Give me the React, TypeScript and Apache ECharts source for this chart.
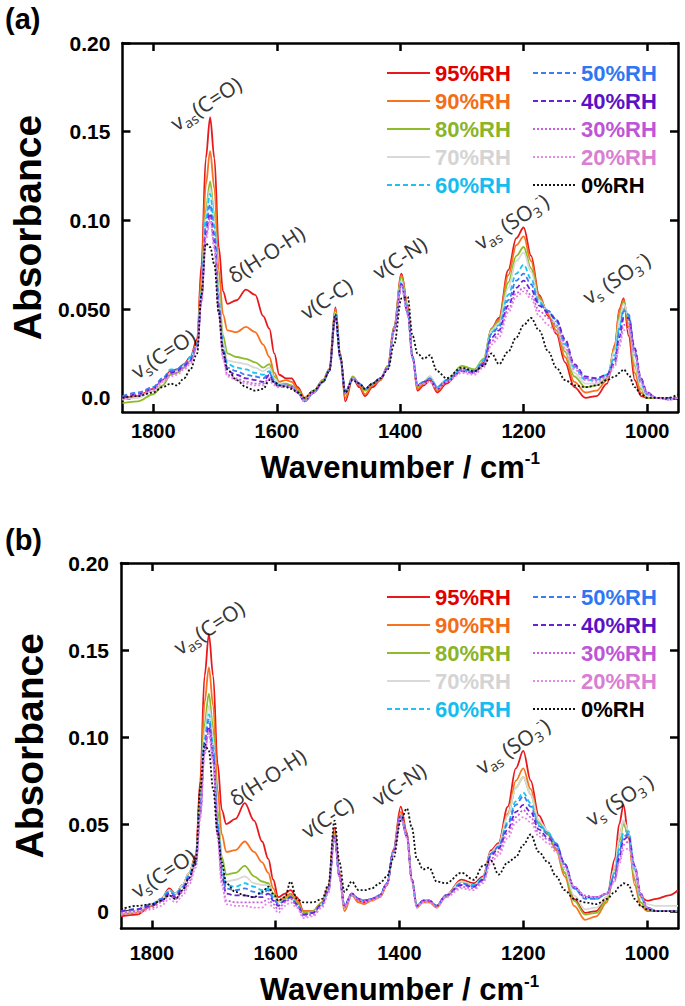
import React, { useEffect, useRef } from "react";
import * as echarts from "echarts";

// ---------- data ----------
const wavenumbers = [
  1850, 1825, 1800, 1785, 1772, 1762, 1750, 1740,
  1729, 1722, 1715, 1708, 1701, 1694, 1687,
  1680, 1665, 1650, 1635, 1622, 1612, 1604, 1596,
  1585, 1576, 1566, 1555, 1540, 1525, 1515,
  1505, 1497, 1489,
  1477, 1466, 1457, 1445, 1432, 1420, 1410,
  1398, 1388, 1380, 1372, 1362, 1352, 1340, 1325,
  1300, 1280, 1265, 1252, 1240, 1225, 1212, 1200, 1188, 1175, 1160, 1147, 1133, 1118, 1100, 1082, 1065,
  1052, 1045, 1038, 1030, 1020, 1010, 1000, 985, 965, 950,
];

const rhNames = ["95%RH", "90%RH", "80%RH", "70%RH", "60%RH", "50%RH", "40%RH", "30%RH", "20%RH", "0%RH"];

// Panel (a)
const a95 = [
  -0.001, 0.001, 0.005, 0.010, 0.015, 0.016, 0.019, 0.023,
  0.033, 0.075, 0.135, 0.158, 0.135, 0.085, 0.060,
  0.053, 0.055, 0.061, 0.058, 0.046, 0.039, 0.025, 0.013,
  0.011, 0.011, 0.006, 0.000, 0.004, 0.010, 0.016,
  0.051, 0.025, -0.002,
  0.011, 0.006, 0.001, 0.006, 0.010, 0.018, 0.040,
  0.070, 0.052, 0.023, 0.004, 0.007, 0.010, 0.003, 0.008,
  0.017, 0.015, 0.020, 0.039, 0.045, 0.072, 0.090, 0.096, 0.080, 0.058, 0.046, 0.036, 0.020, 0.006, 0.000, 0.001, 0.008,
  0.030, 0.050, 0.056, 0.035, 0.010, 0.001, 0.000, 0.000, 0.000, 0.000,
];
const a90 = [
  0.000, 0.001, 0.004, 0.009, 0.014, 0.015, 0.018, 0.022,
  0.031, 0.068, 0.120, 0.139, 0.118, 0.072, 0.047,
  0.038, 0.037, 0.040, 0.037, 0.030, 0.023, 0.014, 0.009,
  0.010, 0.009, 0.005, 0.000, 0.004, 0.010, 0.016,
  0.050, 0.024, 0.000,
  0.011, 0.007, 0.002, 0.007, 0.010, 0.018, 0.040,
  0.069, 0.051, 0.023, 0.005, 0.008, 0.011, 0.004, 0.009,
  0.017, 0.015, 0.021, 0.039, 0.044, 0.069, 0.086, 0.091, 0.077, 0.057, 0.047, 0.038, 0.023, 0.009, 0.003, 0.004, 0.010,
  0.030, 0.049, 0.055, 0.040, 0.014, 0.003, 0.000, 0.000, 0.000, 0.000,
];
const a80 = [
  -0.003, -0.002, 0.002, 0.007, 0.013, 0.014, 0.017, 0.021,
  0.030, 0.062, 0.106, 0.122, 0.103, 0.060, 0.035,
  0.025, 0.023, 0.022, 0.020, 0.017, 0.019, 0.012, 0.008,
  0.008, 0.007, 0.004, -0.001, 0.004, 0.010, 0.016,
  0.049, 0.024, 0.002,
  0.012, 0.008, 0.004, 0.008, 0.011, 0.018, 0.040,
  0.068, 0.050, 0.023, 0.006, 0.009, 0.012, 0.006, 0.010,
  0.018, 0.016, 0.022, 0.039, 0.043, 0.065, 0.080, 0.085, 0.073, 0.056, 0.048, 0.040, 0.026, 0.012, 0.006, 0.007, 0.011,
  0.028, 0.046, 0.054, 0.044, 0.018, 0.005, 0.000, 0.000, 0.000, 0.000,
];
const a70 = [
  -0.001, 0.000, 0.004, 0.009, 0.014, 0.015, 0.018, 0.022,
  0.030, 0.060, 0.103, 0.118, 0.100, 0.057, 0.031,
  0.021, 0.020, 0.019, 0.017, 0.015, 0.017, 0.011, 0.008,
  0.007, 0.006, 0.003, -0.002, 0.003, 0.009, 0.015,
  0.048, 0.023, 0.003,
  0.011, 0.008, 0.005, 0.008, 0.011, 0.017, 0.038,
  0.066, 0.049, 0.023, 0.007, 0.009, 0.012, 0.006, 0.010,
  0.017, 0.015, 0.021, 0.038, 0.042, 0.062, 0.077, 0.082, 0.071, 0.055, 0.048, 0.041, 0.028, 0.014, 0.008, 0.008, 0.012,
  0.027, 0.044, 0.053, 0.046, 0.020, 0.006, 0.001, 0.000, 0.000, 0.000,
];
const a60 = [
  0.000, 0.002, 0.006, 0.011, 0.016, 0.016, 0.019, 0.023,
  0.030, 0.060, 0.101, 0.115, 0.097, 0.055, 0.029,
  0.019, 0.017, 0.016, 0.014, 0.013, 0.015, 0.010, 0.007,
  0.007, 0.006, 0.003, -0.002, 0.003, 0.009, 0.015,
  0.047, 0.022, 0.003,
  0.011, 0.008, 0.005, 0.008, 0.011, 0.017, 0.038,
  0.065, 0.049, 0.023, 0.007, 0.009, 0.011, 0.006, 0.010,
  0.016, 0.015, 0.021, 0.037, 0.041, 0.058, 0.070, 0.075, 0.067, 0.054, 0.049, 0.043, 0.030, 0.017, 0.010, 0.010, 0.013,
  0.024, 0.040, 0.050, 0.046, 0.024, 0.008, 0.002, 0.000, 0.000, 0.000,
];
const a50 = [
  0.001, 0.003, 0.006, 0.011, 0.015, 0.016, 0.019, 0.022,
  0.030, 0.058, 0.097, 0.109, 0.092, 0.052, 0.027,
  0.017, 0.015, 0.013, 0.012, 0.011, 0.014, 0.009, 0.007,
  0.007, 0.006, 0.003, -0.002, 0.003, 0.009, 0.015,
  0.046, 0.022, 0.003,
  0.011, 0.008, 0.005, 0.008, 0.011, 0.017, 0.038,
  0.064, 0.048, 0.023, 0.007, 0.009, 0.011, 0.006, 0.010,
  0.016, 0.015, 0.020, 0.036, 0.040, 0.055, 0.066, 0.070, 0.064, 0.053, 0.049, 0.044, 0.032, 0.018, 0.011, 0.011, 0.013,
  0.022, 0.038, 0.049, 0.047, 0.026, 0.009, 0.002, 0.000, 0.000, 0.000,
];
const a40 = [
  0.000, 0.002, 0.005, 0.010, 0.014, 0.015, 0.018, 0.021,
  0.029, 0.056, 0.093, 0.104, 0.088, 0.050, 0.025,
  0.015, 0.013, 0.011, 0.010, 0.009, 0.013, 0.008, 0.006,
  0.007, 0.006, 0.003, -0.002, 0.003, 0.009, 0.015,
  0.046, 0.022, 0.003,
  0.011, 0.008, 0.005, 0.008, 0.011, 0.017, 0.038,
  0.064, 0.048, 0.023, 0.007, 0.009, 0.010, 0.005, 0.009,
  0.015, 0.014, 0.019, 0.034, 0.038, 0.052, 0.062, 0.066, 0.061, 0.052, 0.048, 0.044, 0.033, 0.019, 0.012, 0.011, 0.013,
  0.020, 0.034, 0.045, 0.045, 0.028, 0.011, 0.003, 0.000, -0.001, 0.000,
];
const a30 = [
  0.000, 0.002, 0.005, 0.010, 0.013, 0.014, 0.017, 0.020,
  0.029, 0.055, 0.091, 0.102, 0.086, 0.048, 0.023,
  0.013, 0.011, 0.009, 0.008, 0.008, 0.011, 0.008, 0.006,
  0.007, 0.006, 0.003, -0.002, 0.003, 0.009, 0.015,
  0.046, 0.022, 0.003,
  0.011, 0.008, 0.005, 0.008, 0.011, 0.017, 0.038,
  0.063, 0.048, 0.022, 0.007, 0.008, 0.009, 0.005, 0.009,
  0.015, 0.014, 0.018, 0.032, 0.036, 0.050, 0.059, 0.062, 0.058, 0.049, 0.045, 0.041, 0.031, 0.018, 0.011, 0.010, 0.012,
  0.019, 0.031, 0.041, 0.042, 0.026, 0.010, 0.003, 0.000, -0.001, 0.000,
];
const a20 = [
  -0.001, 0.001, 0.004, 0.009, 0.012, 0.013, 0.016, 0.019,
  0.028, 0.054, 0.089, 0.100, 0.084, 0.047, 0.022,
  0.012, 0.010, 0.008, 0.007, 0.007, 0.010, 0.007, 0.006,
  0.007, 0.006, 0.003, -0.002, 0.003, 0.009, 0.015,
  0.045, 0.022, 0.003,
  0.011, 0.008, 0.005, 0.008, 0.011, 0.017, 0.038,
  0.063, 0.047, 0.022, 0.007, 0.008, 0.009, 0.005, 0.009,
  0.014, 0.013, 0.017, 0.030, 0.034, 0.048, 0.057, 0.060, 0.056, 0.046, 0.041, 0.037, 0.028, 0.016, 0.010, 0.009, 0.011,
  0.018, 0.029, 0.038, 0.039, 0.024, 0.009, 0.002, 0.000, -0.001, 0.000,
];
const a0 = [
  0.000, 0.001, 0.003, 0.006, 0.008, 0.007, 0.011, 0.016,
  0.025, 0.058, 0.087, 0.085, 0.075, 0.048, 0.026,
  0.016, 0.010, 0.006, 0.004, 0.005, 0.010, 0.009, 0.007,
  0.006, 0.005, 0.003, 0.000, 0.004, 0.009, 0.015,
  0.047, 0.023, 0.003,
  0.010, 0.008, 0.005, 0.008, 0.011, 0.016, 0.030,
  0.056, 0.057, 0.035, 0.025, 0.022, 0.024, 0.015, 0.011,
  0.017, 0.015, 0.018, 0.025, 0.019, 0.026, 0.034, 0.041, 0.045, 0.038, 0.026, 0.017, 0.010, 0.007, 0.006, 0.007, 0.010,
  0.012, 0.014, 0.016, 0.013, 0.006, 0.002, 0.000, 0.000, 0.000, 0.002,
];

// Panel (b)
const b95 = [
  -0.003, -0.002, 0.003, 0.007, 0.013, 0.010, 0.015, 0.022,
  0.032, 0.075, 0.135, 0.159, 0.135, 0.085, 0.058,
  0.050, 0.053, 0.062, 0.052, 0.040, 0.030, 0.018, 0.008,
  0.010, 0.012, 0.008, 0.000, 0.000, 0.005, 0.014,
  0.048, 0.022, 0.002,
  0.010, 0.006, 0.005, 0.007, 0.008, 0.015, 0.035,
  0.060, 0.045, 0.018, 0.003, 0.006, 0.006, 0.003, 0.009,
  0.018, 0.016, 0.020, 0.035, 0.039, 0.060, 0.082, 0.092, 0.075, 0.055, 0.045, 0.036, 0.022, 0.007, -0.001, 0.000, 0.008,
  0.030, 0.050, 0.061, 0.042, 0.018, 0.008, 0.006, 0.007, 0.009, 0.012,
];
const b90 = [
  -0.002, -0.001, 0.003, 0.007, 0.012, 0.010, 0.015, 0.022,
  0.031, 0.068, 0.120, 0.140, 0.118, 0.070, 0.044,
  0.034, 0.035, 0.040, 0.034, 0.028, 0.022, 0.013, 0.006,
  0.008, 0.010, 0.006, 0.000, 0.000, 0.005, 0.013,
  0.045, 0.020, 0.000,
  0.009, 0.005, 0.004, 0.006, 0.008, 0.015, 0.035,
  0.057, 0.044, 0.018, 0.002, 0.005, 0.005, 0.002, 0.008,
  0.017, 0.015, 0.019, 0.034, 0.038, 0.056, 0.075, 0.082, 0.070, 0.052, 0.044, 0.035, 0.020, 0.003, -0.005, -0.003, 0.005,
  0.025, 0.042, 0.052, 0.042, 0.015, 0.003, 0.000, 0.000, 0.000, 0.000,
];
const b80 = [
  -0.001, 0.000, 0.004, 0.007, 0.012, 0.010, 0.015, 0.022,
  0.030, 0.063, 0.108, 0.125, 0.105, 0.058, 0.031,
  0.021, 0.022, 0.026, 0.020, 0.017, 0.016, 0.010, 0.005,
  0.007, 0.009, 0.005, -0.001, 0.000, 0.005, 0.013,
  0.044, 0.020, 0.002,
  0.010, 0.007, 0.006, 0.007, 0.009, 0.016, 0.034,
  0.055, 0.043, 0.018, 0.003, 0.006, 0.006, 0.003, 0.009,
  0.017, 0.015, 0.019, 0.034, 0.038, 0.055, 0.071, 0.077, 0.067, 0.051, 0.044, 0.036, 0.022, 0.006, -0.002, -0.001, 0.006,
  0.024, 0.040, 0.050, 0.044, 0.018, 0.005, 0.001, 0.000, 0.000, 0.000,
];
const b70 = [
  -0.001, 0.000, 0.004, 0.007, 0.012, 0.010, 0.015, 0.022,
  0.030, 0.061, 0.103, 0.118, 0.099, 0.054, 0.027,
  0.017, 0.018, 0.020, 0.016, 0.015, 0.015, 0.009, 0.005,
  0.006, 0.008, 0.004, -0.002, -0.001, 0.004, 0.012,
  0.043, 0.020, 0.003,
  0.010, 0.007, 0.006, 0.007, 0.009, 0.016, 0.034,
  0.055, 0.043, 0.018, 0.003, 0.006, 0.006, 0.003, 0.009,
  0.017, 0.015, 0.019, 0.034, 0.038, 0.055, 0.071, 0.077, 0.067, 0.052, 0.046, 0.038, 0.024, 0.009, 0.001, 0.002, 0.008,
  0.025, 0.042, 0.052, 0.046, 0.021, 0.007, 0.004, 0.003, 0.003, 0.003,
];
const b60 = [
  0.000, 0.001, 0.004, 0.007, 0.012, 0.010, 0.014, 0.021,
  0.030, 0.060, 0.099, 0.113, 0.095, 0.052, 0.025,
  0.015, 0.014, 0.016, 0.014, 0.012, 0.013, 0.008, 0.004,
  0.006, 0.008, 0.004, -0.002, -0.001, 0.004, 0.012,
  0.043, 0.020, 0.003,
  0.010, 0.007, 0.006, 0.007, 0.009, 0.016, 0.034,
  0.055, 0.043, 0.018, 0.003, 0.006, 0.006, 0.003, 0.009,
  0.016, 0.015, 0.019, 0.033, 0.037, 0.051, 0.063, 0.068, 0.062, 0.050, 0.045, 0.039, 0.027, 0.013, 0.008, 0.007, 0.010,
  0.022, 0.036, 0.045, 0.046, 0.024, 0.008, 0.002, 0.000, 0.000, 0.000,
];
const b50 = [
  0.000, 0.001, 0.004, 0.007, 0.011, 0.009, 0.014, 0.020,
  0.029, 0.058, 0.097, 0.110, 0.092, 0.050, 0.023,
  0.013, 0.012, 0.013, 0.011, 0.010, 0.012, 0.007, 0.004,
  0.006, 0.008, 0.004, -0.002, -0.001, 0.004, 0.012,
  0.043, 0.020, 0.003,
  0.010, 0.007, 0.006, 0.007, 0.009, 0.016, 0.034,
  0.055, 0.043, 0.018, 0.003, 0.006, 0.006, 0.003, 0.009,
  0.016, 0.014, 0.018, 0.033, 0.037, 0.050, 0.061, 0.066, 0.060, 0.049, 0.044, 0.039, 0.027, 0.013, 0.007, 0.007, 0.010,
  0.021, 0.034, 0.043, 0.044, 0.025, 0.009, 0.002, 0.000, 0.000, 0.000,
];
const b40 = [
  0.000, 0.001, 0.003, 0.006, 0.010, 0.008, 0.013, 0.019,
  0.028, 0.056, 0.093, 0.106, 0.088, 0.047, 0.020,
  0.010, 0.009, 0.009, 0.008, 0.008, 0.010, 0.006, 0.003,
  0.006, 0.008, 0.004, -0.002, -0.001, 0.004, 0.012,
  0.043, 0.020, 0.003,
  0.010, 0.007, 0.006, 0.007, 0.009, 0.016, 0.034,
  0.055, 0.043, 0.018, 0.003, 0.006, 0.006, 0.003, 0.009,
  0.015, 0.014, 0.018, 0.032, 0.036, 0.047, 0.057, 0.061, 0.057, 0.047, 0.042, 0.038, 0.027, 0.014, 0.008, 0.008, 0.010,
  0.019, 0.031, 0.041, 0.043, 0.026, 0.010, 0.002, 0.000, 0.000, 0.000,
];
const b30 = [
  -0.001, 0.000, 0.002, 0.005, 0.009, 0.007, 0.011, 0.017,
  0.027, 0.055, 0.091, 0.104, 0.086, 0.044, 0.017,
  0.006, 0.005, 0.005, 0.005, 0.005, 0.007, 0.004, 0.001,
  0.005, 0.007, 0.003, -0.003, -0.002, 0.003, 0.011,
  0.043, 0.020, 0.003,
  0.010, 0.007, 0.006, 0.007, 0.009, 0.016, 0.034,
  0.055, 0.043, 0.018, 0.003, 0.006, 0.006, 0.003, 0.009,
  0.014, 0.013, 0.017, 0.030, 0.034, 0.045, 0.054, 0.058, 0.054, 0.045, 0.041, 0.036, 0.026, 0.014, 0.009, 0.008, 0.010,
  0.018, 0.029, 0.038, 0.040, 0.026, 0.010, 0.002, 0.000, 0.000, 0.000,
];
const b20 = [
  -0.002, -0.001, 0.001, 0.003, 0.007, 0.005, 0.009, 0.015,
  0.025, 0.053, 0.090, 0.103, 0.085, 0.042, 0.015,
  0.004, 0.003, 0.003, 0.002, 0.002, 0.005, 0.002, -0.001,
  0.003, 0.005, 0.002, -0.004, -0.003, 0.002, 0.010,
  0.042, 0.019, 0.002,
  0.009, 0.006, 0.005, 0.006, 0.008, 0.015, 0.033,
  0.054, 0.042, 0.017, 0.002, 0.005, 0.005, 0.002, 0.008,
  0.013, 0.012, 0.016, 0.028, 0.032, 0.042, 0.051, 0.054, 0.051, 0.043, 0.039, 0.034, 0.025, 0.014, 0.008, 0.008, 0.010,
  0.017, 0.027, 0.035, 0.036, 0.024, 0.009, 0.002, 0.000, 0.000, 0.000,
];
const b0 = [
  0.001, 0.003, 0.004, 0.006, 0.009, 0.007, 0.012, 0.019,
  0.030, 0.070, 0.096, 0.092, 0.070, 0.045, 0.028,
  0.016, 0.011, 0.009, 0.008, 0.011, 0.014, 0.010, 0.006,
  0.008, 0.017, 0.007, 0.005, 0.005, 0.007, 0.015,
  0.052, 0.028, 0.011,
  0.017, 0.012, 0.012, 0.013, 0.016, 0.020, 0.030,
  0.052, 0.059, 0.048, 0.030, 0.024, 0.025, 0.017, 0.016,
  0.022, 0.018, 0.026, 0.029, 0.021, 0.028, 0.031, 0.038, 0.044, 0.034, 0.028, 0.020, 0.012, 0.007, 0.005, 0.004, 0.007,
  0.011, 0.014, 0.016, 0.015, 0.007, 0.003, 0.001, 0.000, 0.000, 0.000,
];

const panelA = [a95, a90, a80, a70, a60, a50, a40, a30, a20, a0];
const panelB = [b95, b90, b80, b70, b60, b50, b40, b30, b20, b0];

const xTicks = [1000, 1200, 1400, 1600, 1800];
const yTicks = [0, 0.05, 0.1, 0.15, 0.2];
const yTickLabelsA = ["0.0", "0.050", "0.10", "0.15", "0.20"];
const yTickLabelsB = ["0", "0.05", "0.10", "0.15", "0.20"];

const bandLabels = [
  "{n|v}{s|s}{n|(C=O)}",
  "{n|v}{s|as}{n|(C=O)}",
  "{n|δ(H-O-H)}",
  "{n|v(C-C)}",
  "{n|v(C-N)}",
  "{n|v}{s|as}{n| (SO}{s|3}{p|-}{n|)}",
  "{n|v}{s|s}{n| (SO}{s|3}{p|-}{n|)}",
];
// label anchor points (wavenumber, absorbance)
const bandPosA = [[1784, 0.025], [1715, 0.166], [1617, 0.081], [1520, 0.056], [1401, 0.079], [1220, 0.0995], [1050, 0.0675]];
const bandPosB = [[1782, 0.022], [1708, 0.163], [1613, 0.077], [1517, 0.054], [1401, 0.073], [1217, 0.095], [1045, 0.064]];

// ---------- styles ----------
const FONT = "'Liberation Sans', Arial, sans-serif";
const ANNO_FONT = "'Noto Sans', 'DejaVu Sans', sans-serif";
const lineStyles = [
  { color: "#e8191c", text: "#e00000", type: "solid" },
  { color: "#f8731f", text: "#f26d1a", type: "solid" },
  { color: "#8dbb2c", text: "#8ab42a", type: "solid" },
  { color: "#d9d9d9", text: "#d4d4d4", type: "solid" },
  { color: "#1cc4f2", text: "#14bdf0", type: [5, 3] },
  { color: "#3b7ef4", text: "#2f77f2", type: [5, 3] },
  { color: "#6b22d6", text: "#5a12c6", type: [5, 3] },
  { color: "#c65fdf", text: "#bd55d6", type: [2, 2] },
  { color: "#e38be2", text: "#d87ed3", type: [2, 2] },
  { color: "#111111", text: "#000000", type: [2, 2] },
];

const grids = [
  { left: 121, right: 7, top: 43, height: 369 },
  { left: 121, right: 7, top: 563, height: 373 },
];
const yMins = [-0.008, -0.01];
const xLabelMargins = [9, 14];
const xNameGaps = [38, 44];

function buildOption() {
  const axisLineStyle = { color: "#000", width: 2.5 };
  const xAxis: any[] = [];
  const yAxis: any[] = [];
  [0, 1].forEach((g) => {
    xAxis.push({
      gridIndex: g,
      type: "value",
      min: 950,
      max: 1850,
      inverse: true,
      position: "bottom",
      axisLine: { onZero: false, lineStyle: axisLineStyle },
      axisTick: { inside: true, length: 8, customValues: xTicks, lineStyle: axisLineStyle },
      axisLabel: {
        customValues: xTicks,
        formatter: (v: number) => String(Math.round(v)),
        fontSize: 20,
        fontWeight: "bold",
        color: "#000",
        fontFamily: FONT,
        margin: xLabelMargins[g],
      },
      splitLine: { show: false },
      name: "{t|Wavenumber / cm}{p|-1}",
      nameLocation: "middle",
      nameGap: xNameGaps[g],
      nameTextStyle: {
        rich: {
          t: { fontSize: 31, fontWeight: "bold", fontFamily: FONT, color: "#000", lineHeight: 34 },
          p: { fontSize: 17, fontWeight: "bold", fontFamily: FONT, color: "#000", verticalAlign: "top", lineHeight: 17 },
        },
      },
    });
    xAxis.push({
      gridIndex: g,
      type: "value",
      min: 950,
      max: 1850,
      inverse: true,
      position: "top",
      axisLine: { onZero: false, lineStyle: axisLineStyle },
      axisTick: { inside: true, length: 8, customValues: xTicks, lineStyle: axisLineStyle },
      axisLabel: { show: false },
      splitLine: { show: false },
    });
    const labels = g === 0 ? yTickLabelsA : yTickLabelsB;
    yAxis.push({
      gridIndex: g,
      type: "value",
      min: yMins[g],
      max: 0.2,
      position: "left",
      axisLine: { onZero: false, lineStyle: axisLineStyle },
      axisTick: { inside: true, length: 8, customValues: yTicks, lineStyle: axisLineStyle },
      axisLabel: {
        customValues: yTicks,
        formatter: (v: number) => {
          const i = yTicks.findIndex((t) => Math.abs(t - v) < 1e-6);
          return i >= 0 ? labels[i] : "";
        },
        fontSize: 21,
        fontWeight: "bold",
        color: "#000",
        fontFamily: FONT,
        margin: 12,
      },
      splitLine: { show: false },
      name: "Absorbance",
      nameLocation: "middle",
      nameGap: 72,
      nameTextStyle: { fontSize: 39, fontWeight: "bold", color: "#000", fontFamily: FONT },
    });
    yAxis.push({
      gridIndex: g,
      type: "value",
      min: yMins[g],
      max: 0.2,
      position: "right",
      axisLine: { onZero: false, lineStyle: axisLineStyle },
      axisTick: { inside: true, length: 8, customValues: yTicks, lineStyle: axisLineStyle },
      axisLabel: { show: false },
      splitLine: { show: false },
    });
  });

  const series: any[] = [];
  [panelA, panelB].forEach((panel, g) => {
    panel.forEach((vals, k) => {
      const st = lineStyles[k];
      series.push({
        type: "line",
        name: rhNames[k],
        xAxisIndex: g * 2,
        yAxisIndex: g * 2,
        data: wavenumbers.map((w, i) => [w, vals[i]]),
        symbol: "none",
        smooth: 0.35,
        smoothMonotone: "x",
        lineStyle: { color: st.color, width: 1.8, type: st.type },
        itemStyle: { color: st.color },
        z: 2,
      });
    });
    const pos = g === 0 ? bandPosA : bandPosB;
    series.push({
      type: "scatter",
      xAxisIndex: g * 2,
      yAxisIndex: g * 2,
      symbolSize: 1,
      itemStyle: { color: "rgba(0,0,0,0)" },
      silent: true,
      data: pos.map((p) => p),
      label: {
        show: true,
        position: "inside",
        rotate: 33,
        formatter: (p: any) => bandLabels[p.dataIndex],
        rich: {
          n: { fontSize: 21, fontFamily: ANNO_FONT, color: "#000", lineHeight: 27 },
          s: { fontSize: 14, fontFamily: ANNO_FONT, color: "#000", lineHeight: 14, verticalAlign: "bottom" },
          p: { fontSize: 13, fontFamily: ANNO_FONT, color: "#000", lineHeight: 13, verticalAlign: "top" },
        },
      },
      z: 5,
    });
  });

  const legendTops = [57, 581];
  const legend: any[] = [];
  legendTops.forEach((top) => {
    [0, 1].forEach((col) => {
      legend.push({
        orient: "vertical",
        left: col === 0 ? 381 : 527,
        top,
        itemWidth: 43,
        itemHeight: 14,
        itemGap: 6,
        selectedMode: false,
        itemStyle: { opacity: 0 },
        textStyle: { fontSize: 22, fontWeight: "bold", fontFamily: FONT },
        data: rhNames.slice(col * 5, col * 5 + 5).map((n, j) => ({
          name: n,
          textStyle: { color: lineStyles[col * 5 + j].text },
        })),
      });
    });
  });

  return {
    animation: false,
    backgroundColor: "#fff",
    grid: grids,
    xAxis,
    yAxis,
    legend,
    series,
    graphic: [
      { type: "text", left: 5, top: 4, style: { text: "(a)", fontSize: 29, fontWeight: "bold", fontFamily: FONT, fill: "#000" } },
      { type: "text", left: 5, top: 525, style: { text: "(b)", fontSize: 29, fontWeight: "bold", fontFamily: FONT, fill: "#000" } },
    ],
  };
}

export default function App() {
  const ref = useRef<HTMLDivElement>(null);
  useEffect(() => {
    document.body.style.margin = "0";
    const chart = echarts.init(ref.current as HTMLDivElement, null, { renderer: "svg" });
    chart.setOption(buildOption() as any);
    return () => chart.dispose();
  }, []);
  return <div ref={ref} style={{ width: 685, height: 1006 }} />;
}
